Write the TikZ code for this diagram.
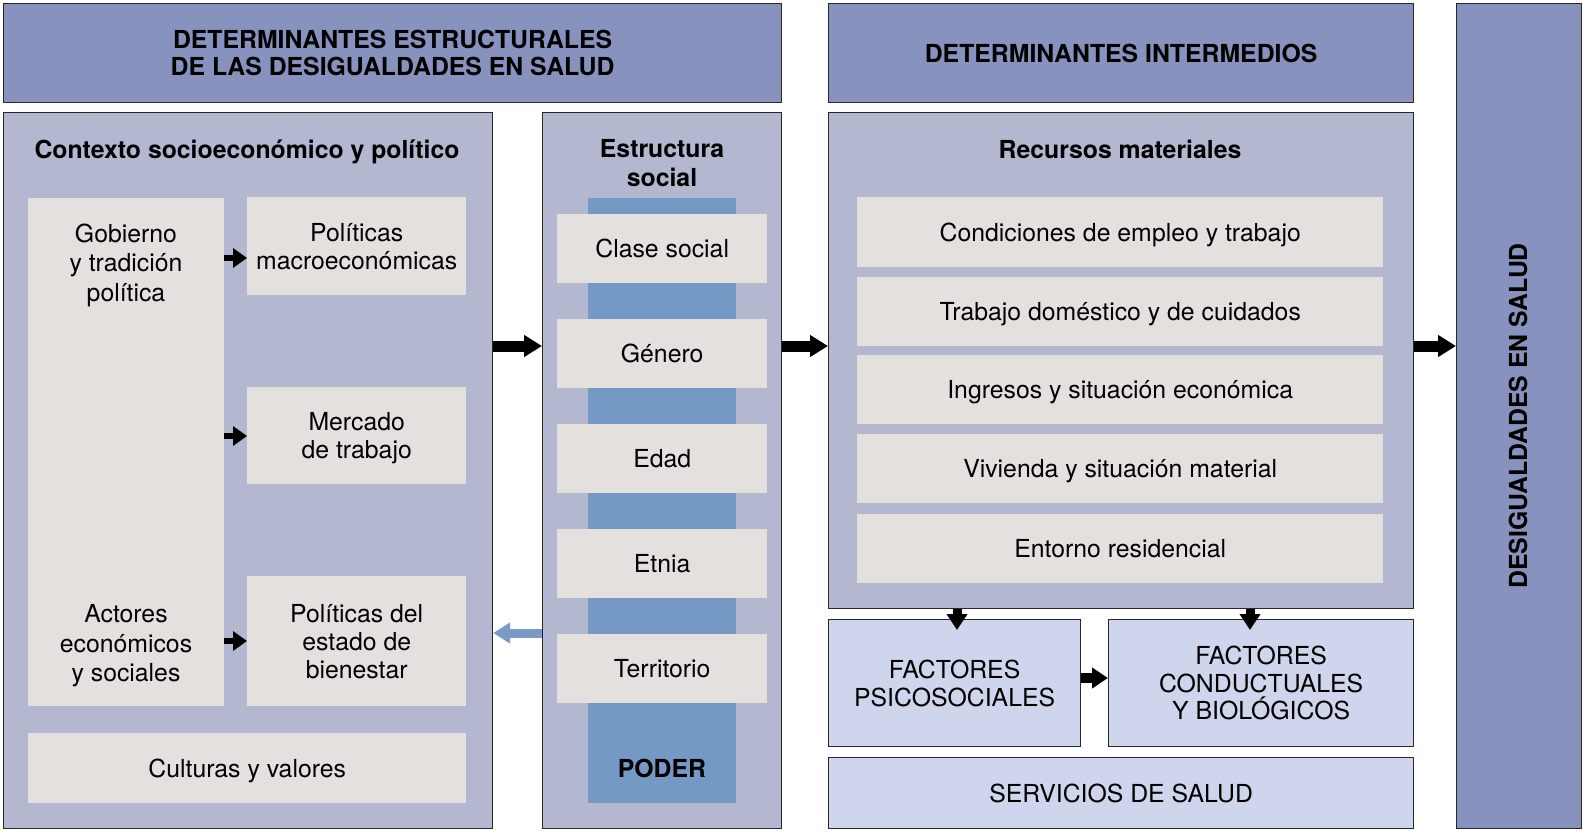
\documentclass[tikz,border=0pt]{standalone}
\usepackage{fontspec}
\setmainfont{TeX Gyre Heros}
\usetikzlibrary{arrows.meta}
\definecolor{hdr}{RGB}{135,147,190}
\definecolor{pane}{RGB}{179,183,207}
\definecolor{item}{RGB}{228,224,221}
\definecolor{bar}{RGB}{116,153,196}
\definecolor{fact}{RGB}{207,213,236}
\definecolor{bluearrow}{RGB}{124,154,200}
\definecolor{edge}{RGB}{40,40,40}
\tikzset{
  framed/.style={draw=edge, line width=1.2pt, inner sep=0pt, anchor=north west, align=center},
  hdrbox/.style={framed, fill=hdr, font=\fontsize{24.8}{27.6}\selectfont\bfseries},
  panebox/.style={framed, fill=pane},
  factbox/.style={framed, fill=fact, font=\fontsize{24.8}{27.8}\selectfont},
  itembox/.style={inner sep=0pt, anchor=north west, fill=item, align=center, text depth=0pt, font=\fontsize{24.8}{28}\selectfont},
  ttl/.style={font=\fontsize{24.8}{28.3}\selectfont\bfseries, align=center, inner sep=0pt},
  txt/.style={font=\fontsize{24.8}{29.5}\selectfont, align=center, inner sep=0pt},
  bigarrow/.style={line width=11pt, -{Triangle[length=18pt,width=21pt]}, black},
  smallarrow/.style={line width=6pt, -{Triangle[length=14pt,width=19pt]}, black},
}
\begin{document}
\begin{tikzpicture}[x=1pt,y=-1pt]
\useasboundingbox (0,0) rectangle (1583,832);
\fill[white] (0,0) rectangle (1583,832);
% headers
\node[hdrbox, minimum width=778pt, minimum height=99pt] (h1) at (3,3) {DETERMINANTES ESTRUCTURALES\\DE LAS DESIGUALDADES EN SALUD};
\node[hdrbox, minimum width=585pt, minimum height=99pt] (h2) at (828,3) {DETERMINANTES INTERMEDIOS};
\node[hdrbox, minimum width=125pt, minimum height=825pt] (h3) at (1456,3) {};
\node[ttl, rotate=90] (h3t) at (1518,416) {DESIGUALDADES EN SALUD};
% left pane
\node[panebox, minimum width=489pt, minimum height=716pt] (ctx) at (3,112) {};
\node[ttl] (ctxt) at (247,152) {Contexto socioeconómico y político};
\node[itembox, minimum width=196pt, minimum height=508pt] (gob) at (28,198) {};
\node[txt] (gobt) at (126,265) {Gobierno\\y tradición\\política};
\node[txt] (act) at (126,646) {Actores\\económicos\\y sociales};
\node[itembox, minimum width=219pt, minimum height=98pt] (pm) at (247,197) {Políticas\\macroeconómicas};
\node[itembox, minimum width=219pt, minimum height=97pt] (mt) at (247,387) {Mercado\\de trabajo};
\node[itembox, minimum width=219pt, minimum height=130pt] (pe) at (247,576) {Políticas del\\estado de\\bienestar};
\node[itembox, minimum width=438pt, minimum height=70pt] (cv) at (28,733) {Culturas y valores};
\coordinate (g1) at (224,258);
\coordinate (g2) at (224,436);
\coordinate (g3) at (224,641);
\draw[smallarrow] (g1) -- (g1 -| pm.west);
\draw[smallarrow] (g2) -- (g2 -| mt.west);
\draw[smallarrow] (g3) -- (g3 -| pe.west);
% estructura social
\node[panebox, minimum width=239pt, minimum height=716pt] (es) at (542,112) {};
\node[ttl] (est) at (662,163) {Estructura\\social};
\node[anchor=north west, fill=bar, inner sep=0pt, minimum width=148pt, minimum height=605pt] (bar) at (588,198) {};
\node[itembox, minimum width=210pt, minimum height=69pt] (cs) at (557,214) {Clase social};
\node[itembox, minimum width=210pt, minimum height=69pt] (ge) at (557,319) {Género};
\node[itembox, minimum width=210pt, minimum height=69pt] (ed) at (557,424) {Edad};
\node[itembox, minimum width=210pt, minimum height=69pt] (et) at (557,529) {Etnia};
\node[itembox, minimum width=210pt, minimum height=69pt] (te) at (557,634) {Territorio};
\node[ttl] (pod) at (662,768) {PODER};
% recursos materiales
\node[panebox, minimum width=585pt, minimum height=496pt] (rm) at (828,112) {};
\node[ttl] (rmt) at (1120,149) {Recursos materiales};
\node[itembox, minimum width=526pt, minimum height=70pt] (r1) at (857,197) {Condiciones de empleo y trabajo};
\node[itembox, minimum width=526pt, minimum height=69pt] (r2) at (857,277) {Trabajo doméstico y de cuidados};
\node[itembox, minimum width=526pt, minimum height=69pt] (r3) at (857,355) {Ingresos y situación económica};
\node[itembox, minimum width=526pt, minimum height=69pt] (r4) at (857,434) {Vivienda y situación material};
\node[itembox, minimum width=526pt, minimum height=69pt] (r5) at (857,514) {Entorno residencial};
% factores
\node[factbox, minimum width=252pt, minimum height=127pt] (fp) at (828,619) {FACTORES\\PSICOSOCIALES};
\node[factbox, minimum width=305pt, minimum height=127pt] (fc) at (1108,619) {FACTORES\\CONDUCTUALES\\Y BIOLÓGICOS};
\node[factbox, minimum width=585pt, minimum height=71pt] (ss) at (828,757) {SERVICIOS DE SALUD};
% main arrows
\coordinate (m1) at (0,346);
\draw[bigarrow] (m1 -| ctx.east) -- (m1 -| es.west);
\draw[bigarrow] (m1 -| es.east) -- (m1 -| rm.west);
\draw[bigarrow] (m1 -| rm.east) -- (m1 -| h3.west);
\coordinate (b1) at (0,633);
\draw[line width=9pt, -{Triangle[length=17pt,width=20pt]}, bluearrow] (b1 -| es.west) -- (b1 -| ctx.east);
\coordinate (d1) at (957,0);
\coordinate (d2) at (1250,0);
\draw[line width=9pt, -{Triangle[length=16pt,width=20pt]}, black] (d1 |- rm.south) -- ([yshift=-11pt]d1 |- fp.north);
\draw[line width=9pt, -{Triangle[length=16pt,width=20pt]}, black] (d2 |- rm.south) -- ([yshift=-11pt]d2 |- fc.north);
\coordinate (f1) at (0,678);
\draw[line width=10pt, -{Triangle[length=16pt,width=20pt]}, black] (f1 -| fp.east) -- (f1 -| fc.west);
\end{tikzpicture}
\end{document}
